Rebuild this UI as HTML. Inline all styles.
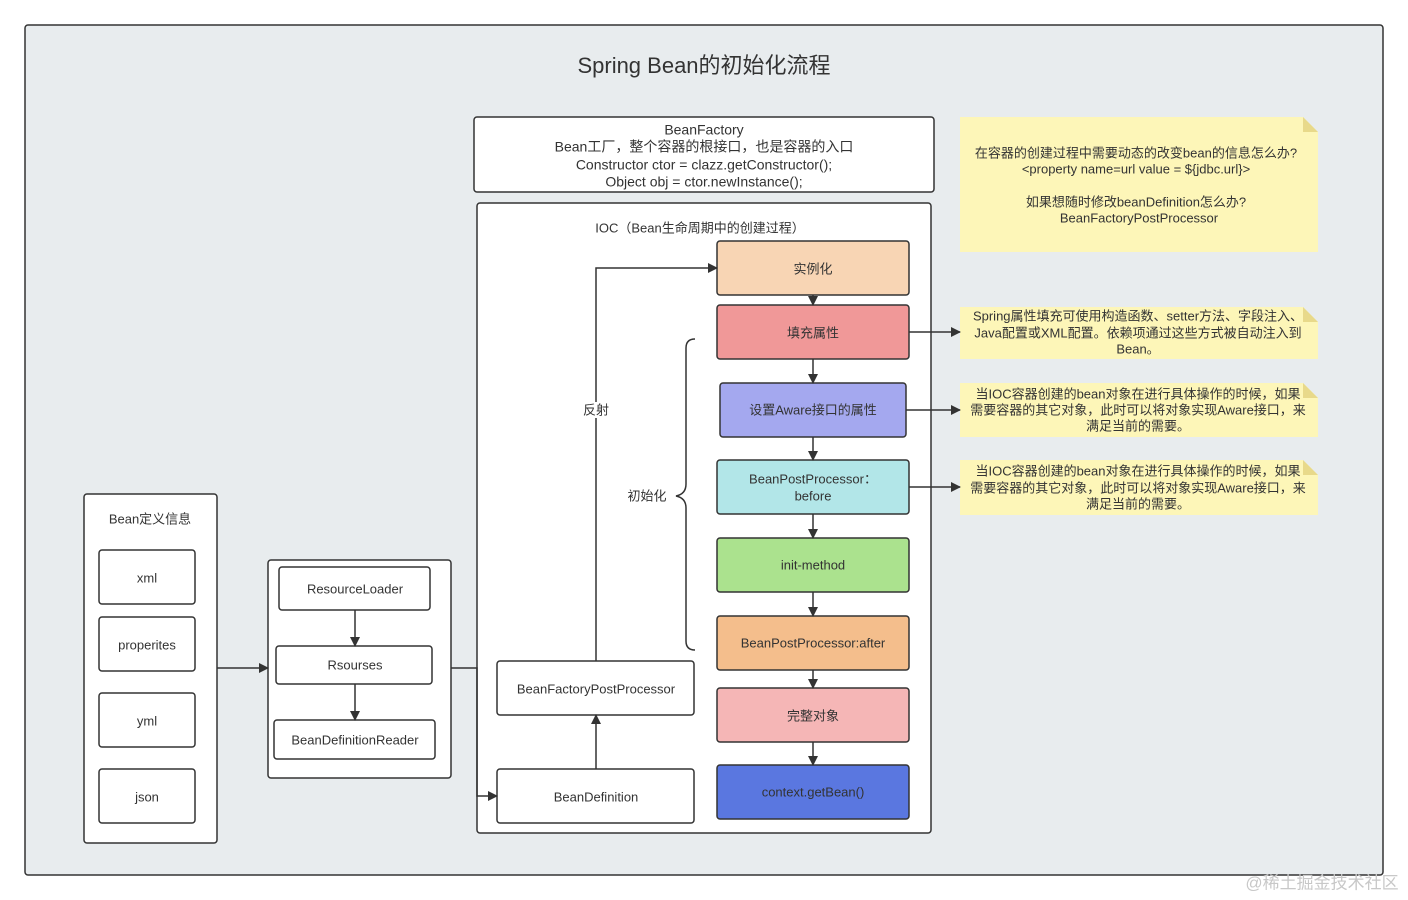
<!DOCTYPE html>
<html><head><meta charset="utf-8"><style>
html,body{margin:0;padding:0;background:#fff;}
svg{display:block}
text{font-family:"Liberation Sans","Noto Sans CJK SC",sans-serif;fill:#333;font-size:13px;text-anchor:middle;dominant-baseline:middle}
.b{fill:#fff;stroke:#333;stroke-width:1.5}
.l{stroke:#333;stroke-width:1.5;fill:none}
.n{fill:#fdf6b8}
.f{font-size:14px}
</style></head><body>
<svg width="1408" height="900" viewBox="0 0 1408 900">
<defs><marker id="a" markerWidth="10" markerHeight="10" refX="9" refY="5" orient="auto" markerUnits="userSpaceOnUse"><path d="M0,0L10,5L0,10z" fill="#333"/></marker></defs>
<rect x="25" y="25" width="1358" height="850" rx="3" fill="#e8ecee" stroke="#333" stroke-width="1.5"/>
<text x="704" y="67" style="font-size:22px">Spring Bean的初始化流程</text>

<rect class="b" x="474" y="117" width="460" height="75" rx="3"/>
<text class="f" x="704" y="131">BeanFactory</text>
<text class="f" x="704" y="148">Bean工厂，整个容器的根接口，也是容器的入口</text>
<text class="f" x="704" y="166">Constructor ctor = clazz.getConstructor();</text>
<text class="f" x="704" y="183">Object obj = ctor.newInstance();</text>

<rect class="b" x="477" y="203" width="454" height="630" rx="3"/>
<text x="700" y="229">IOC（Bean生命周期中的创建过程）</text>

<rect x="717" y="241" width="192" height="54" rx="3" fill="#f8d5b4" stroke="#333" stroke-width="1.5"/><text x="813" y="270">实例化</text>
<rect x="717" y="305" width="192" height="54" rx="3" fill="#f09898" stroke="#333" stroke-width="1.5"/><text x="813" y="334">填充属性</text>
<rect x="720" y="383" width="186" height="54" rx="3" fill="#a4a8ef" stroke="#333" stroke-width="1.5"/><text x="813" y="411">设置Aware接口的属性</text>
<rect x="717" y="460" width="192" height="54" rx="3" fill="#b2e6e8" stroke="#333" stroke-width="1.5"/><text x="813" y="480">BeanPostProcessor：</text><text x="813" y="497">before</text>
<rect x="717" y="538" width="192" height="54" rx="3" fill="#abe28e" stroke="#333" stroke-width="1.5"/><text x="813" y="566">init-method</text>
<rect x="717" y="616" width="192" height="54" rx="3" fill="#f4be8c" stroke="#333" stroke-width="1.5"/><text x="813" y="644">BeanPostProcessor:after</text>
<rect x="717" y="688" width="192" height="54" rx="3" fill="#f5b6b6" stroke="#333" stroke-width="1.5"/><text x="813" y="717">完整对象</text>
<rect x="717" y="765" width="192" height="54" rx="3" fill="#5a77e0" stroke="#333" stroke-width="1.5"/><text x="813" y="793">context.getBean()</text>

<line class="l" x1="813" y1="295" x2="813" y2="305" marker-end="url(#a)"/>
<line class="l" x1="813" y1="359" x2="813" y2="383" marker-end="url(#a)"/>
<line class="l" x1="813" y1="437" x2="813" y2="460" marker-end="url(#a)"/>
<line class="l" x1="813" y1="514" x2="813" y2="538" marker-end="url(#a)"/>
<line class="l" x1="813" y1="592" x2="813" y2="616" marker-end="url(#a)"/>
<line class="l" x1="813" y1="670" x2="813" y2="688" marker-end="url(#a)"/>
<line class="l" x1="813" y1="742" x2="813" y2="765" marker-end="url(#a)"/>

<path class="l" d="M695,339 Q686,339 686,348 L686,484 Q686,494 676,496 Q686,498 686,508 L686,641 Q686,650 695,650"/>
<text x="647" y="497">初始化</text>

<rect class="b" x="497" y="661" width="197" height="54" rx="3"/><text x="596" y="690">BeanFactoryPostProcessor</text>
<rect class="b" x="497" y="769" width="197" height="54" rx="3"/><text x="596" y="798">BeanDefinition</text>
<line class="l" x1="596" y1="769" x2="596" y2="715" marker-end="url(#a)"/>
<polyline class="l" points="596,661 596,268 717,268" marker-end="url(#a)"/>
<rect x="582" y="402" width="28" height="16" fill="#fff"/>
<text x="596" y="411">反射</text>

<rect class="b" x="84" y="494" width="133" height="349" rx="3"/>
<text x="150" y="520">Bean定义信息</text>
<rect class="b" x="99" y="550" width="96" height="54" rx="3"/><text x="147" y="579">xml</text>
<rect class="b" x="99" y="617" width="96" height="54" rx="3"/><text x="147" y="646">properites</text>
<rect class="b" x="99" y="693" width="96" height="54" rx="3"/><text x="147" y="722">yml</text>
<rect class="b" x="99" y="769" width="96" height="54" rx="3"/><text x="147" y="798">json</text>

<rect class="b" x="268" y="560" width="183" height="218" rx="3"/>
<rect class="b" x="279" y="567" width="151" height="43" rx="3"/><text x="355" y="590">ResourceLoader</text>
<rect class="b" x="276" y="646" width="156" height="38" rx="3"/><text x="355" y="666">Rsourses</text>
<rect class="b" x="274" y="720" width="161" height="39" rx="3"/><text x="355" y="741">BeanDefinitionReader</text>
<line class="l" x1="355" y1="610" x2="355" y2="646" marker-end="url(#a)"/>
<line class="l" x1="355" y1="684" x2="355" y2="720" marker-end="url(#a)"/>
<line class="l" x1="217" y1="668" x2="268" y2="668" marker-end="url(#a)"/>
<polyline class="l" points="451,668 477,668 477,796 497,796" marker-end="url(#a)"/>

<path class="n" d="M960,117 L1303,117 L1318,132 L1318,252 L960,252z"/><path d="M1303,117 L1318,132 L1303,132z" fill="#e8d98a"/>
<text x="1136" y="154">在容器的创建过程中需要动态的改变bean的信息怎么办?</text>
<text x="1136" y="170">&lt;property name=url value = ${jdbc.url}&gt;</text>
<text x="1136" y="203">如果想随时修改beanDefinition怎么办?</text>
<text x="1139" y="219">BeanFactoryPostProcessor</text>

<path class="n" d="M960,307 L1303,307 L1318,322 L1318,359 L960,359z"/><path d="M1303,307 L1318,322 L1303,322z" fill="#e8d98a"/>
<text x="1138" y="317">Spring属性填充可使用构造函数、setter方法、字段注入、</text>
<text x="1138" y="334">Java配置或XML配置。依赖项通过这些方式被自动注入到</text>
<text x="1138" y="350">Bean。</text>

<path class="n" d="M960,383 L1303,383 L1318,398 L1318,437 L960,437z"/><path d="M1303,383 L1318,398 L1303,398z" fill="#e8d98a"/>
<text x="1138" y="395">当IOC容器创建的bean对象在进行具体操作的时候，如果</text>
<text x="1138" y="411">需要容器的其它对象，此时可以将对象实现Aware接口，来</text>
<text x="1138" y="427">满足当前的需要。</text>

<path class="n" d="M960,460 L1303,460 L1318,475 L1318,515 L960,515z"/><path d="M1303,460 L1318,475 L1303,475z" fill="#e8d98a"/>
<text x="1138" y="472">当IOC容器创建的bean对象在进行具体操作的时候，如果</text>
<text x="1138" y="489">需要容器的其它对象，此时可以将对象实现Aware接口，来</text>
<text x="1138" y="505">满足当前的需要。</text>

<line class="l" x1="909" y1="332" x2="960" y2="332" marker-end="url(#a)"/>
<line class="l" x1="906" y1="410" x2="960" y2="410" marker-end="url(#a)"/>
<line class="l" x1="909" y1="487" x2="960" y2="487" marker-end="url(#a)"/>

<text x="1322" y="884" style="font-size:17px;fill:#c8c8c8">@稀土掘金技术社区</text>
</svg>
</body></html>
